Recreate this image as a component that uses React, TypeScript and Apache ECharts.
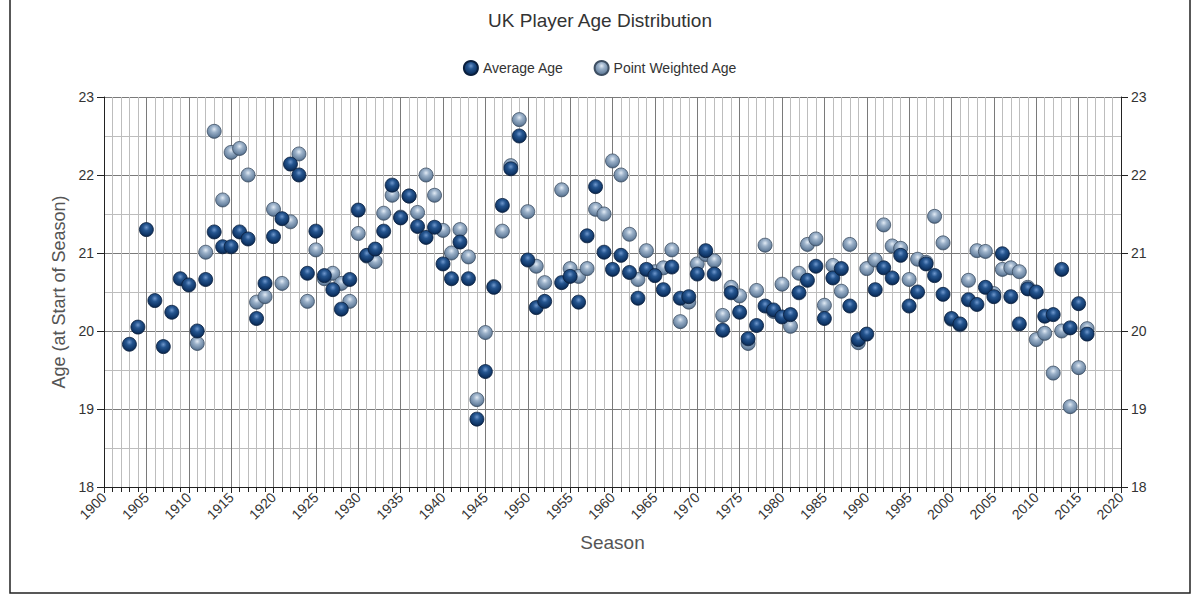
import React, { useEffect, useRef } from "react";
import * as echarts from "echarts";

const titleText = "UK Player Age Distribution";
const seriesNames = ["Average Age", "Point Weighted Age"];

const years = [
  1903, 1904, 1905, 1906, 1907, 1908, 1909, 1910, 1911, 1912, 1913, 1914, 1915, 1916, 1917, 1918, 1919,
  1920, 1921, 1922, 1923, 1924, 1925, 1926, 1927, 1928, 1929, 1930, 1931, 1932, 1933, 1934, 1935, 1936,
  1937, 1938, 1939, 1940, 1941, 1942, 1943, 1944, 1945, 1946, 1947, 1948, 1949, 1950, 1951, 1952, 1954,
  1955, 1956, 1957, 1958, 1959, 1960, 1961, 1962, 1963, 1964, 1965, 1966, 1967, 1968, 1969, 1970, 1971,
  1972, 1973, 1974, 1975, 1976, 1977, 1978, 1979, 1980, 1981, 1982, 1983, 1984, 1985, 1986, 1987, 1988,
  1989, 1990, 1991, 1992, 1993, 1994, 1995, 1996, 1997, 1998, 1999, 2000, 2001, 2002, 2003, 2004, 2005,
  2006, 2007, 2008, 2009, 2010, 2011, 2012, 2013, 2014, 2015, 2016,
];

const averageAge = [
  19.83, 20.05, 21.3, 20.39, 19.8, 20.24, 20.67, 20.59, 20.0, 20.66, 21.27, 21.08, 21.08, 21.27, 21.18, 20.16, 20.61,
  21.21, 21.44, 22.14, 22.0, 20.74, 21.28, 20.71, 20.53, 20.28, 20.66, 21.55, 20.97, 21.05, 21.28, 21.87, 21.45, 21.73,
  21.34, 21.2, 21.33, 20.86, 20.67, 21.14, 20.67, 18.87, 19.48, 20.56, 21.61, 22.08, 22.5, 20.91, 20.3, 20.38, 20.62,
  20.7, 20.37, 21.22, 21.85, 21.01, 20.79, 20.97, 20.75, 20.42, 20.79, 20.71, 20.53, 20.82, 20.42, 20.44, 20.73, 21.03,
  20.73, 20.01, 20.49, 20.24, 19.9, 20.07, 20.32, 20.27, 20.18, 20.21, 20.49, 20.65, 20.83, 20.16, 20.68, 20.8, 20.32,
  19.89, 19.96, 20.53, 20.81, 20.68, 20.97, 20.32, 20.5, 20.86, 20.71, 20.47, 20.16, 20.09, 20.4, 20.34, 20.56, 20.44,
  20.99, 20.44, 20.09, 20.54, 20.5, 20.19, 20.21, 20.79, 20.04, 20.35, 19.96,
];

const pointWeightedAge = [
  null, null, null, null, null, null, null, null, 19.84, 21.01, 22.56, 21.68, 22.29, 22.34, 22.0, 20.37, 20.44,
  21.56, 20.61, 21.4, 22.27, 20.38, 21.04, 20.67, 20.74, 20.61, 20.38, 21.25, 20.96, 20.89, 21.51, 21.74, 21.46, 21.73,
  21.52, 22.0, 21.74, 21.29, 21.0, 21.3, 20.95, 19.12, 19.98, 20.57, 21.28, 22.12, 22.71, 21.53, 20.83, 20.62, 21.81,
  20.8, 20.7, 20.8, 21.56, 21.5, 22.18, 22.0, 21.24, 20.66, 21.03, 20.76, 20.81, 21.04, 20.12, 20.37, 20.86, 20.98,
  20.9, 20.2, 20.56, 20.45, 19.84, 20.52, 21.1, 20.25, 20.6, 20.06, 20.74, 21.11, 21.18, 20.33, 20.84, 20.51, 21.11,
  19.85, 20.8, 20.91, 21.36, 21.09, 21.06, 20.66, 20.92, 20.88, 21.47, 21.13, 20.15, 20.08, 20.65, 21.03, 21.02, 20.48,
  20.79, 20.81, 20.76, 20.56, 19.89, 19.97, 19.46, 20.0, 19.03, 19.53, 20.03,
];

const xMin = 1900;
const xMax = 2020;
const yMin = 18;
const yMax = 23;

export default function App() {
  const ref = useRef<HTMLDivElement>(null);

  useEffect(() => {
    if (!ref.current) return;
    const chart = echarts.init(ref.current, undefined, { renderer: "svg" });

    const darkBall = new echarts.graphic.RadialGradient(0.5, 0.35, 0.65, [
      { offset: 0, color: "#6f97cc" },
      { offset: 0.35, color: "#25558f" },
      { offset: 0.8, color: "#0f3566" },
      { offset: 1, color: "#0a2448" },
    ]);
    const lightBall = new echarts.graphic.RadialGradient(0.5, 0.35, 0.65, [
      { offset: 0, color: "#e2ebf5" },
      { offset: 0.35, color: "#9bb1c9" },
      { offset: 0.8, color: "#6a84a1" },
      { offset: 1, color: "#48607b" },
    ]);

    const avgData = years.map((y, i) => [y, averageAge[i]]);
    const pwData = years
      .map((y, i) => [y, pointWeightedAge[i]])
      .filter((d) => d[1] !== null);

    const fontFamily = "Liberation Sans, Arial, sans-serif";

    const yAxisCommon = {
      type: "value",
      min: yMin,
      max: yMax,
      interval: 1,
      axisLine: { show: true, lineStyle: { color: "#222", width: 1 } },
      axisTick: { show: true, length: 7, lineStyle: { color: "#222" } },
      axisLabel: { color: "#333", fontSize: 14, fontFamily, margin: 10 },
      minorTick: { show: false, splitNumber: 2 },
    };

    chart.setOption({
      animation: false,
      backgroundColor: "#ffffff",
      title: {
        text: titleText,
        left: "center",
        top: 6,
        textStyle: { fontSize: 19, fontWeight: "normal", color: "#333", fontFamily },
      },
      legend: {
        top: 55,
        left: "center",
        itemGap: 30,
        itemWidth: 14,
        itemHeight: 14,
        textStyle: { fontSize: 14, color: "#333", fontFamily },
        data: [
          { name: seriesNames[0], icon: "circle" },
          { name: seriesNames[1], icon: "circle" },
        ],
      },
      grid: { left: 104, right: 79, top: 97, bottom: 115, containLabel: false },
      xAxis: {
        type: "value",
        min: xMin,
        max: xMax,
        interval: 5,
        name: "Season",
        nameLocation: "middle",
        nameGap: 46,
        nameTextStyle: { fontSize: 19, color: "#555", fontFamily },
        axisLine: { show: true, onZero: false, lineStyle: { color: "#222", width: 1 } },
        axisTick: { show: true, length: 6, lineStyle: { color: "#222" } },
        minorTick: { show: true, splitNumber: 5, length: 5, lineStyle: { color: "#222" } },
        axisLabel: {
          rotate: 45,
          color: "#333",
          fontSize: 14,
          fontFamily,
          margin: 8,
          formatter: (v: number) => String(v),
        },
        splitLine: { show: true, lineStyle: { color: "#7a7a7a", width: 1 } },
        minorSplitLine: { show: true, lineStyle: { color: "#bdbdbd", width: 1 } },
      },
      yAxis: [
        {
          ...yAxisCommon,
          position: "left",
          name: "Age (at Start of Season)",
          nameLocation: "middle",
          nameGap: 32,
          nameRotate: 90,
          nameTextStyle: { fontSize: 18, color: "#555", fontFamily },
          splitLine: { show: true, lineStyle: { color: "#7a7a7a", width: 1 } },
          minorSplitLine: { show: true, lineStyle: { color: "#bdbdbd", width: 1 } },
        },
        {
          ...yAxisCommon,
          position: "right",
          splitLine: { show: false },
          minorSplitLine: { show: false },
        },
      ],
      graphic: [
        {
          type: "rect",
          silent: true,
          shape: { x: 10, y: -5, width: 1180, height: 598 },
          style: { fill: "none", stroke: "#222", lineWidth: 1.5 },
          z: 100,
        },
      ],
      series: [
        {
          name: seriesNames[0],
          type: "scatter",
          yAxisIndex: 0,
          symbol: "circle",
          symbolSize: 14,
          z: 4,
          itemStyle: { color: darkBall, borderColor: "#0a1f3d", borderWidth: 0.8, opacity: 1 },
          data: avgData,
        },
        {
          name: seriesNames[1],
          type: "scatter",
          yAxisIndex: 0,
          symbol: "circle",
          symbolSize: 14,
          z: 3,
          itemStyle: { color: lightBall, borderColor: "#3e4f63", borderWidth: 0.8, opacity: 1 },
          data: pwData,
        },
      ],
    });

    return () => chart.dispose();
  }, []);

  return (
    <div
      ref={ref}
      style={{ position: "fixed", left: 0, top: 0, width: 1200, height: 602, background: "#fff" }}
    />
  );
}
